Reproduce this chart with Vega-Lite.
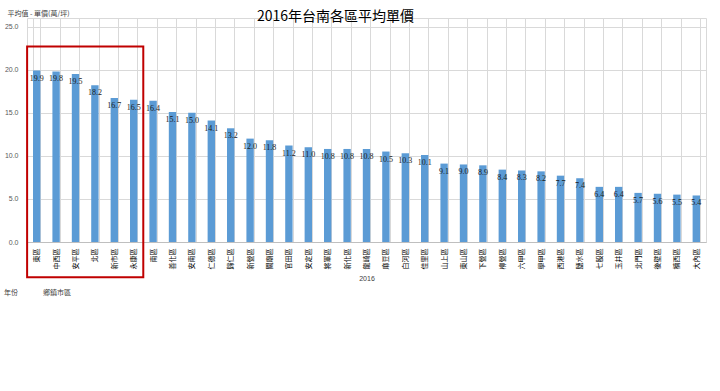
{
  "$schema": "https://vega.github.io/schema/vega-lite/v6.json",
  "autosize": "none",
  "width": 679,
  "height": 224,
  "padding": {"left": 27, "top": 18, "right": 14, "bottom": 149},
  "background": "white",
  "config": {
    "font": "Noto Sans CJK TC",
    "view": {"stroke": "#d9d9d9", "strokeWidth": 1}
  },
  "title": {
    "text": "2016年台南各區平均單價",
    "fontSize": 14,
    "fontWeight": "normal",
    "color": "#000000",
    "anchor": "middle",
    "baseline": "middle",
    "dx": -31,
    "dy": 14,
    "offset": -8
  },
  "datasets": {
    "prices": [
      {"district": "東區", "price": 19.9},
      {"district": "中西區", "price": 19.8},
      {"district": "安平區", "price": 19.5},
      {"district": "北區", "price": 18.2},
      {"district": "新市區", "price": 16.7},
      {"district": "永康區", "price": 16.5},
      {"district": "南區", "price": 16.4},
      {"district": "善化區", "price": 15.1},
      {"district": "安南區", "price": 15.0},
      {"district": "仁德區", "price": 14.1},
      {"district": "歸仁區", "price": 13.2},
      {"district": "新營區", "price": 12.0},
      {"district": "關廟區", "price": 11.8},
      {"district": "官田區", "price": 11.2},
      {"district": "安定區", "price": 11.0},
      {"district": "將軍區", "price": 10.8},
      {"district": "新化區", "price": 10.8},
      {"district": "龍崎區", "price": 10.8},
      {"district": "麻豆區", "price": 10.5},
      {"district": "白河區", "price": 10.3},
      {"district": "佳里區", "price": 10.1},
      {"district": "山上區", "price": 9.1},
      {"district": "東山區", "price": 9.0},
      {"district": "下營區", "price": 8.9},
      {"district": "柳營區", "price": 8.4},
      {"district": "六甲區", "price": 8.3},
      {"district": "學甲區", "price": 8.2},
      {"district": "西港區", "price": 7.7},
      {"district": "鹽水區", "price": 7.4},
      {"district": "七股區", "price": 6.4},
      {"district": "玉井區", "price": 6.4},
      {"district": "北門區", "price": 5.7},
      {"district": "後壁區", "price": 5.6},
      {"district": "楠西區", "price": 5.5},
      {"district": "大內區", "price": 5.4}
    ],
    "highlight": [
      {"first": "東區", "last": "永康區", "top": 22.7, "bottom": -4.1}
    ],
    "buttons": [
      {"button": "年份", "anchor": "東區", "level": -5.9}
    ],
    "buttons2": [
      {"button": "鄉鎮市區", "anchor": "東區", "level": -5.9}
    ]
  },
  "layer": [
    {
      "data": {"name": "prices"},
      "mark": {"type": "bar", "color": "#5b9bd5"},
      "encoding": {
        "x": {
          "field": "district",
          "type": "nominal",
          "sort": null,
          "scale": {"paddingInner": 0.62, "paddingOuter": 0.31},
          "axis": {
            "title": "2016",
            "titleFontSize": 7,
            "titleFontWeight": "normal",
            "titleColor": "#404040",
            "titleFont": "Liberation Sans",
            "titlePadding": 6,
            "labelAngle": -90,
            "labelFontSize": 7,
            "labelColor": "#000000",
            "labelPadding": 6,
            "ticks": false,
            "domainColor": "#bfbfbf",
            "grid": true,
            "gridColor": "#d9d9d9",
            "tickBand": "extent"
          }
        },
        "y": {
          "field": "price",
          "type": "quantitative",
          "scale": {"domain": [0, 25]},
          "axis": {
            "title": "平均值 - 單價(萬/坪)",
            "titleAngle": 0,
            "titleAlign": "left",
            "titleBaseline": "middle",
            "titleX": -20,
            "titleY": -5,
            "titleFontSize": 7,
            "titleFontWeight": "normal",
            "titleColor": "#404040",
            "values": [0, 5, 10, 15, 20, 25],
            "format": ".1f",
            "labelFontSize": 7,
            "labelColor": "#595959",
            "labelFont": "Liberation Sans",
            "labelPadding": 9,
            "ticks": false,
            "domain": false,
            "gridColor": "#d9d9d9"
          }
        }
      }
    },
    {
      "data": {"name": "prices"},
      "mark": {"type": "text", "fontSize": 8, "color": "#1a1a1a", "font": "Liberation Serif", "baseline": "top", "dy": 4},
      "encoding": {
        "x": {"field": "district", "type": "nominal", "sort": null},
        "y": {"field": "price", "type": "quantitative"},
        "text": {"field": "price", "type": "quantitative", "format": ".1f"}
      }
    },
    {
      "data": {"name": "highlight"},
      "mark": {"type": "rect", "filled": false, "stroke": "#c00000", "strokeWidth": 2, "clip": false},
      "encoding": {
        "x": {"field": "first", "type": "nominal", "sort": null, "bandPosition": -0.8},
        "x2": {"field": "last", "bandPosition": 1.8},
        "y": {"field": "top", "type": "quantitative"},
        "y2": {"field": "bottom"}
      }
    },
    {
      "data": {"name": "buttons"},
      "mark": {"type": "text", "fontSize": 7, "color": "#404040", "align": "left", "baseline": "middle", "dx": -23, "clip": false},
      "encoding": {
        "x": {"field": "anchor", "type": "nominal", "sort": null, "bandPosition": -0.8},
        "y": {"field": "level", "type": "quantitative"},
        "text": {"field": "button"}
      }
    },
    {
      "data": {"name": "buttons2"},
      "mark": {"type": "text", "fontSize": 7, "color": "#404040", "align": "left", "baseline": "middle", "dx": 16, "clip": false},
      "encoding": {
        "x": {"field": "anchor", "type": "nominal", "sort": null, "bandPosition": -0.8},
        "y": {"field": "level", "type": "quantitative"},
        "text": {"field": "button"}
      }
    }
  ]
}
